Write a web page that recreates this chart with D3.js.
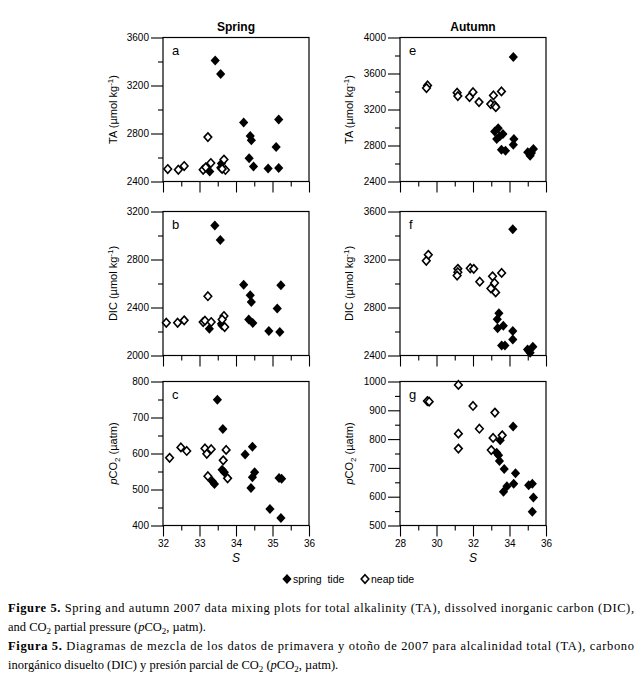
<!DOCTYPE html>
<html><head><meta charset="utf-8">
<script src="https://cdn.jsdelivr.net/npm/d3@7"></script>
<style>body{margin:0;background:#fff} svg{display:block}</style>
</head><body>
<svg id="c" width="641" height="686"></svg>
<script>
// ---- data: [salinity S, value] ----
const taSpringSpringTide = [[33.43,3409],[33.58,3296],[34.21,2892],[34.39,2779],[34.42,2743],[34.36,2594],[34.48,2526],[35.17,2917],[35.10,2687],[35.17,2512],[34.88,2509],[33.28,2484],[33.60,2550],[33.58,2515]];
const taSpringNeapTide = [[32.13,2504],[32.42,2498],[32.58,2529],[33.10,2498],[33.17,2518],[33.23,2770],[33.31,2554],[33.67,2583],[33.71,2496],[33.62,2505]];
const dicSpringSpringTide = [[33.42,3083],[33.57,2963],[34.21,2589],[34.39,2502],[34.42,2446],[34.35,2301],[34.46,2271],[35.23,2586],[35.13,2391],[35.20,2195],[34.90,2204],[33.27,2223],[33.60,2265],[33.62,2250]];
const dicSpringNeapTide = [[32.09,2273],[32.40,2273],[32.58,2293],[33.10,2279],[33.15,2290],[33.23,2494],[33.32,2279],[33.67,2329],[33.69,2237],[33.62,2300]];
const pco2SpringSpringTide = [[33.49,749],[33.64,668],[33.62,555],[33.68,548],[33.35,523],[33.41,515],[34.25,597],[34.45,619],[34.45,534],[34.51,548],[34.41,504],[34.93,446],[35.18,532],[35.25,530],[35.23,421]];
const pco2SpringNeapTide = [[32.18,588],[32.49,617],[32.65,607],[33.15,614],[33.20,599],[33.32,612],[33.23,537],[33.65,581],[33.73,610],[33.77,531]];
const taAutumnSpringTide = [[34.21,3784],[33.38,2992],[33.19,2955],[33.64,2928],[33.47,2902],[33.30,2873],[33.56,2753],[33.78,2742],[34.24,2873],[34.21,2809],[35.00,2724],[35.13,2686],[35.31,2761],[35.20,2717]];
const taAutumnNeapTide = [[29.51,3468],[29.45,3438],[31.13,3386],[31.17,3349],[31.81,3338],[32.00,3393],[32.33,3282],[32.97,3260],[33.12,3356],[33.19,3245],[33.25,3226],[33.56,3401]];
const dicAutumnSpringTide = [[34.18,3452],[33.42,2752],[33.33,2702],[33.35,2627],[33.66,2648],[34.18,2604],[34.18,2534],[33.57,2484],[33.75,2484],[34.99,2450],[35.13,2422],[35.28,2473],[35.05,2440]];
const dicAutumnNeapTide = [[29.55,3239],[29.44,3189],[31.17,3122],[31.17,3094],[31.13,3066],[31.85,3127],[32.04,3122],[32.37,3015],[33.07,3060],[33.18,3004],[32.98,2959],[33.24,2926],[33.57,3088]];
const pco2AutumnSpringTide = [[34.20,844],[33.49,796],[33.30,753],[33.40,744],[33.45,724],[33.71,696],[34.33,681],[34.23,645],[33.86,636],[33.67,617],[35.05,640],[35.25,645],[35.31,597],[35.25,548]];
const pco2AutumnNeapTide = [[29.50,932],[29.60,930],[31.20,988],[32.00,915],[33.20,892],[32.35,836],[31.20,819],[31.20,767],[33.10,804],[33.60,813],[33.00,762]];

// ---- axis ticks ----
const springXMajor = [32,33,34,35,36], springXMinor = [32.5,33.5,34.5,35.5];
const autumnXMajor = [28,30,32,34,36], autumnXMinor = [29,31,33,35];
const taSpringY = [2400,2800,3200,3600], taSpringYMinor = [2600,3000,3400];
const dicSpringY = [2000,2400,2800,3200], dicSpringYMinor = [2200,2600,3000];
const pco2SpringY = [400,500,600,700,800], pco2SpringYMinor = [450,550,650,750];
const taAutumnY = [2400,2800,3200,3600,4000], taAutumnYMinor = [2600,3000,3400,3800];
const dicAutumnY = [2400,2800,3200,3600], dicAutumnYMinor = [2600,3000,3400];
const pco2AutumnY = [500,600,700,800,900,1000], pco2AutumnYMinor = [550,650,750,850,950];

const svg = d3.select("#c");
const FONT = "'Liberation Sans', Arial, sans-serif";
const SERIF = "'Liberation Serif', 'Times New Roman', serif";

const colX = [163, 400], W = 146;
const rowY = [37.5, 211.5, 381.5], H = 144;

const panels = [
  {col:0,row:0,letter:"a",ylab:"TA",yd:[2400,3600],yt:taSpringY,ym:taSpringYMinor,f:taSpringSpringTide,o:taSpringNeapTide},
  {col:0,row:1,letter:"b",ylab:"DIC",yd:[2000,3200],yt:dicSpringY,ym:dicSpringYMinor,f:dicSpringSpringTide,o:dicSpringNeapTide},
  {col:0,row:2,letter:"c",ylab:"pCO2",yd:[400,800],yt:pco2SpringY,ym:pco2SpringYMinor,f:pco2SpringSpringTide,o:pco2SpringNeapTide},
  {col:1,row:0,letter:"e",ylab:"TA",yd:[2400,4000],yt:taAutumnY,ym:taAutumnYMinor,f:taAutumnSpringTide,o:taAutumnNeapTide},
  {col:1,row:1,letter:"f",ylab:"DIC",yd:[2400,3600],yt:dicAutumnY,ym:dicAutumnYMinor,f:dicAutumnSpringTide,o:dicAutumnNeapTide},
  {col:1,row:2,letter:"g",ylab:"pCO2",yd:[500,1000],yt:pco2AutumnY,ym:pco2AutumnYMinor,f:pco2AutumnSpringTide,o:pco2AutumnNeapTide}
];

const filledDiamond = "M0,-5L4.6,0L0,5L-4.6,0Z";
const openDiamond = "M0,-4.2L3.8,0L0,4.2L-3.8,0Z";

panels.forEach(p => {
  const x0 = colX[p.col], y0 = rowY[p.row];
  const xd = p.col === 0 ? [32,36] : [28,36];
  const xMaj = p.col === 0 ? springXMajor : autumnXMajor;
  const xMin = p.col === 0 ? springXMinor : autumnXMinor;
  const x = d3.scaleLinear().domain(xd).range([0, W]);
  const y = d3.scaleLinear().domain(p.yd).range([H, 0]);
  const g = svg.append("g").attr("transform", `translate(${x0},${y0})`);

  // frame
  g.append("rect").attr("width", W).attr("height", H).attr("fill", "none").attr("stroke", "#000").attr("stroke-width", 1.2);

  // y axis
  const ya = g.append("g").call(d3.axisLeft(y).tickValues(p.yt).tickSize(12).tickPadding(2).tickFormat(d3.format("d")));
  const ym = g.append("g").call(d3.axisLeft(y).tickValues(p.ym).tickSize(5).tickFormat(""));
  // x axis
  const xa = g.append("g").attr("transform", `translate(0,${H})`)
    .call(d3.axisBottom(x).tickValues(xMaj).tickSize(11).tickPadding(3).tickFormat(p.row === 2 ? d3.format("d") : ""));
  const xm = g.append("g").attr("transform", `translate(0,${H})`)
    .call(d3.axisBottom(x).tickValues(xMin).tickSize(5).tickFormat(""));
  [ya, ym, xa, xm].forEach(a => {
    a.select(".domain").remove();
    a.selectAll("line").attr("stroke", "#000").attr("stroke-width", 1.1);
    a.selectAll("text").attr("font-family", FONT).attr("font-size", 10).attr("fill", "#000");
  });

  // panel letter
  g.append("text").attr("x", 9).attr("y", 17).attr("font-family", FONT).attr("font-size", 13).text(p.letter);

  // y label
  const yl = g.append("text").attr("transform", `translate(${p.col === 0 ? -46 : -47},${H/2}) rotate(-90)`)
    .attr("text-anchor", "middle").attr("font-family", FONT).attr("font-size", 11);
  if (p.ylab === "pCO2") {
    yl.append("tspan").attr("font-style", "italic").text("p");
    yl.append("tspan").text("CO");
    yl.append("tspan").attr("font-size", 8).attr("dy", 3).text("2");
    yl.append("tspan").attr("dy", -3).text(" (µatm)");
  } else {
    yl.append("tspan").text(p.ylab + " (µmol kg");
    yl.append("tspan").attr("font-size", 8).attr("dy", -4).text("-1");
    yl.append("tspan").attr("dy", 4).text(")");
  }

  // x label
  if (p.row === 2) {
    g.append("text").attr("x", W/2).attr("y", H + 36).attr("text-anchor", "middle")
      .attr("font-family", FONT).attr("font-size", 12).attr("font-style", "italic").text("S");
  }

  // points
  g.selectAll("path.f").data(p.f).join("path").attr("class", "f")
    .attr("d", filledDiamond).attr("transform", d => `translate(${x(d[0])},${y(d[1])})`)
    .attr("fill", "#000");
  g.selectAll("path.o").data(p.o).join("path").attr("class", "o")
    .attr("d", openDiamond).attr("transform", d => `translate(${x(d[0])},${y(d[1])})`)
    .attr("fill", "#fff").attr("stroke", "#000").attr("stroke-width", 1.6);
});

// column titles
svg.append("text").attr("x", colX[0] + W/2).attr("y", 31).attr("text-anchor", "middle")
  .attr("font-family", FONT).attr("font-size", 12).attr("font-weight", "bold").text("Spring");
svg.append("text").attr("x", colX[1] + W/2).attr("y", 31).attr("text-anchor", "middle")
  .attr("font-family", FONT).attr("font-size", 12).attr("font-weight", "bold").text("Autumn");

// legend
const leg = svg.append("g").attr("transform", "translate(0,579)");
leg.append("path").attr("d", filledDiamond).attr("transform", "translate(287,0)").attr("fill", "#000");
leg.append("text").attr("x", 293).attr("y", 4).attr("font-family", FONT).attr("font-size", 10.5).attr("xml:space","preserve").text("spring  tide");
leg.append("path").attr("d", openDiamond).attr("transform", "translate(365,0)").attr("fill", "#fff").attr("stroke", "#000").attr("stroke-width", 1.6);
leg.append("text").attr("x", 371).attr("y", 4).attr("font-family", FONT).attr("font-size", 10.5).text("neap tide");

// caption
const cap = svg.append("g").attr("font-family", SERIF).attr("font-size", 12.5).attr("fill", "#000");
function sub(t, s) { t.append("tspan").attr("font-size", 9).attr("dy", 3).text(s); t.append("tspan").attr("dy", -3).text(""); }
let t1 = cap.append("text").attr("x", 8).attr("y", 612).attr("textLength", 626).attr("lengthAdjust", "spacing");
t1.append("tspan").attr("font-weight", "bold").text("Figure 5.");
t1.append("tspan").text(" Spring and autumn 2007 data mixing plots for total alkalinity (TA), dissolved inorganic carbon (DIC),");
let t2 = cap.append("text").attr("x", 8).attr("y", 631);
t2.append("tspan").text("and CO");
t2.append("tspan").attr("font-size", 9).attr("dy", 3).text("2");
t2.append("tspan").attr("dy", -3).text(" partial pressure (");
t2.append("tspan").attr("font-style", "italic").text("p");
t2.append("tspan").text("CO");
t2.append("tspan").attr("font-size", 9).attr("dy", 3).text("2");
t2.append("tspan").attr("dy", -3).text(", µatm).");
let t3 = cap.append("text").attr("x", 8).attr("y", 650).attr("textLength", 626).attr("lengthAdjust", "spacing");
t3.append("tspan").attr("font-weight", "bold").text("Figura 5.");
t3.append("tspan").text(" Diagramas de mezcla de los datos de primavera y otoño de 2007 para alcalinidad total (TA), carbono");
let t4 = cap.append("text").attr("x", 8).attr("y", 669);
t4.append("tspan").text("inorgánico disuelto (DIC) y presión parcial de CO");
t4.append("tspan").attr("font-size", 9).attr("dy", 3).text("2");
t4.append("tspan").attr("dy", -3).text(" (");
t4.append("tspan").attr("font-style", "italic").text("p");
t4.append("tspan").text("CO");
t4.append("tspan").attr("font-size", 9).attr("dy", 3).text("2");
t4.append("tspan").attr("dy", -3).text(", µatm).");
</script>
</body></html>
